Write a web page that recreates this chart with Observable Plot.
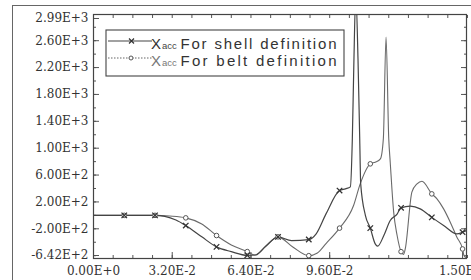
<!DOCTYPE html>
<html><head><meta charset="utf-8">
<script src="https://cdn.jsdelivr.net/npm/d3@7"></script>
<script src="https://cdn.jsdelivr.net/npm/@observablehq/plot@0.6"></script>
<style>
body{margin:0;background:#fff;}
#wrap{position:relative;width:471px;height:280px;overflow:hidden;background:#fff;}
#border{position:absolute;left:12px;top:5px;width:600px;height:400px;border-left:1.3px solid #666;border-top:1.3px solid #666;pointer-events:none;}
#legend{position:absolute;left:0;top:0;}
</style></head><body><div id="wrap"><div id="border"></div></div>
<script>
// Series: X acceleration, shell definition (x markers) and belt definition (circle markers)
const shellT = [0, 0.0125, 0.025, 0.029, 0.0335, 0.0375, 0.044, 0.05, 0.056, 0.0625, 0.066, 0.07, 0.075, 0.0805, 0.0875, 0.0905, 0.0945, 0.1, 0.1024, 0.1044, 0.1052, 0.1058, 0.1066, 0.1075, 0.1082, 0.1086, 0.1105, 0.1125, 0.1145, 0.1155, 0.118, 0.1206, 0.1234, 0.125, 0.1288, 0.1328, 0.1375, 0.1423, 0.1477, 0.15, 0.1516];
const shellAcc = [0, 0, 0, -15, -70, -152, -320, -469, -540, -595, -590, -460, -320, -375, -360, -275, 22, 369, 395, 424, 1139, 2230, 3300, 2330, 1139, 469, 0, -190, -424, -458, -300, -77, 20, 112, 137, 97, -30, -150, -275, -250, -226];
const beltT = [0, 0.0125, 0.025, 0.031, 0.0375, 0.044, 0.05, 0.056, 0.0625, 0.0655, 0.07, 0.075, 0.081, 0.0875, 0.091, 0.0945, 0.1, 0.1057, 0.1084, 0.1125, 0.1145, 0.1166, 0.1178, 0.1189, 0.12, 0.1206, 0.122, 0.1234, 0.125, 0.126, 0.1267, 0.1294, 0.1315, 0.1335, 0.1375, 0.1396, 0.1423, 0.145, 0.1477, 0.15, 0.1506, 0.1516];
const beltAcc = [0, 0, 0, -10, -37, -127, -300, -440, -539, -590, -460, -320, -470, -600, -560, -420, -190, 146, 469, 767, 792, 841, 1139, 2653, 1139, 792, 48, -300, -540, -580, -500, 345, 469, 509, 320, 246, 97, -101, -325, -500, -600, -630];

const yTickValues = [-642, -200, 200, 600, 1000, 1400, 1800, 2200, 2600, 2990];
const yTickLabels = ["-6.42E+2", "-2.00E+2", "2.00E+2", "6.00E+2", "1.00E+3", "1.40E+3", "1.80E+3", "2.20E+3", "2.60E+3", "2.99E+3"];
const xTickValues = [0, 0.032, 0.064, 0.096, 0.15];
const xTickLabels = ["0.00E+0", "3.20E-2", "6.40E-2", "9.60E-2", "1.50E-1"];
const legendNames = ["For shell definition", "For belt definition"];
const markerStep = 0.0125;

const shell = shellT.map((t, i) => ({t, v: shellAcc[i]}));
const belt = beltT.map((t, i) => ({t, v: beltAcc[i]}));
const isMarker = d => d.t > 0 && Math.abs(d.t / markerStep - Math.round(d.t / markerStep)) < 1e-6;

const yLab = new Map(yTickValues.map((v, i) => [v, yTickLabels[i]]));
const xLab = new Map(xTickValues.map((v, i) => [v, xTickLabels[i]]));
const yMinor = d3.range(-600, 2801, 200);
const xMinor = d3.range(0, 0.1521, 0.008);
const yMid = yTickValues.slice(1, -1);
const yBottom = [yTickValues[0]];
const yTop = [yTickValues[yTickValues.length - 1]];

const ink = "#333";
const yAxisOpts = {anchor: "left", tickSize: -6, tickPadding: 11, tickFormat: d => yLab.get(d), label: null, stroke: "#555"};
const chart = Plot.plot({
  width: 471, height: 280,
  marginLeft: 93, marginRight: 5, marginTop: 14, marginBottom: 22,
  style: {fontFamily: "DejaVu Serif", fontSize: "12px", color: ink, background: "transparent"},
  x: {domain: [0, 0.1516]},
  y: {domain: [-642, 2990]},
  marks: [
    Plot.axisY(yMinor, {anchor: "left", tickSize: -3, tickFormat: () => "", label: null, stroke: "#555"}),
    Plot.axisY(yMinor, {anchor: "right", tickSize: -3, tickFormat: () => "", label: null, stroke: "#555"}),
    Plot.axisY(yTickValues, {anchor: "right", tickSize: -6, tickFormat: () => "", label: null, stroke: "#555"}),
    Plot.axisY(yMid, yAxisOpts),
    Plot.axisY(yBottom, {...yAxisOpts, dy: -3}),
    Plot.axisY(yTop, {...yAxisOpts, dy: 4}),
    Plot.axisX(xMinor, {anchor: "bottom", tickSize: -3, tickFormat: () => "", label: null, stroke: "#555"}),
    Plot.axisX(xMinor, {anchor: "top", tickSize: -3, tickFormat: () => "", label: null, stroke: "#555"}),
    Plot.axisX(xTickValues, {anchor: "bottom", tickSize: -6, tickPadding: 14, tickFormat: d => xLab.get(d), label: null, stroke: "#555"}),
    Plot.line(belt, {x: "t", y: "v", stroke: "#6a6a6a", strokeWidth: 1.1, curve: "monotone-x", clip: true}),
    Plot.line(shell, {x: "t", y: "v", stroke: "#444", strokeWidth: 1.2, curve: "monotone-x", clip: true}),
    Plot.dot(belt.filter(isMarker), {x: "t", y: "v", r: 2.3, fill: "white", stroke: "#555", strokeWidth: 1}),
    Plot.dot(shell.filter(isMarker), {x: "t", y: "v", symbol: "times", r: 2.6, stroke: "#333", strokeWidth: 1.3}),
    Plot.frame({stroke: "#444", strokeWidth: 1.2})
  ]
});
document.getElementById("wrap").appendChild(chart);

// Legend box (overlay inside the plot area)
const lg = d3.select("#wrap").append("svg").attr("id", "legend").attr("width", 471).attr("height", 280);
lg.append("rect").attr("x", 106).attr("y", 30).attr("width", 238).attr("height", 46)
  .attr("fill", "white").attr("stroke", "#444").attr("stroke-width", 1.1);
const rows = [{y: 41, dash: null, stroke: "#444", name: legendNames[0]}, {y: 58, dash: "1.5,1.5", stroke: "#666", name: legendNames[1]}];
rows.forEach((r, i) => {
  lg.append("line").attr("x1", 108).attr("x2", 152).attr("y1", r.y).attr("y2", r.y)
    .attr("stroke", r.stroke).attr("stroke-width", 1.1).attr("stroke-dasharray", r.dash);
  if (i === 0) {
    lg.append("path").attr("d", `M${129},${r.y-2.5}L${134},${r.y+2.5}M${129},${r.y+2.5}L${134},${r.y-2.5}`)
      .attr("stroke", "#333").attr("stroke-width", 1.2);
  } else {
    lg.append("circle").attr("cx", 131).attr("cy", r.y).attr("r", 2).attr("fill", "white").attr("stroke", "#555");
  }
  const base = r.y + 8;
  lg.append("text").attr("x", 151).attr("y", base).attr("font-family", "Liberation Sans").attr("font-size", 15)
    .attr("fill", i === 0 ? "#333" : "#777").text("X");
  lg.append("text").attr("x", 162).attr("y", base).attr("font-family", "Liberation Sans").attr("font-size", 9.5)
    .attr("fill", i === 0 ? "#444" : "#777").text("acc");
  lg.append("text").attr("x", 180.5).attr("y", base).attr("font-family", "Liberation Sans").attr("font-size", 15)
    .attr("fill", "#333").attr("textLength", 156).attr("lengthAdjust", "spacing").text(r.name);
});
</script></body></html>
